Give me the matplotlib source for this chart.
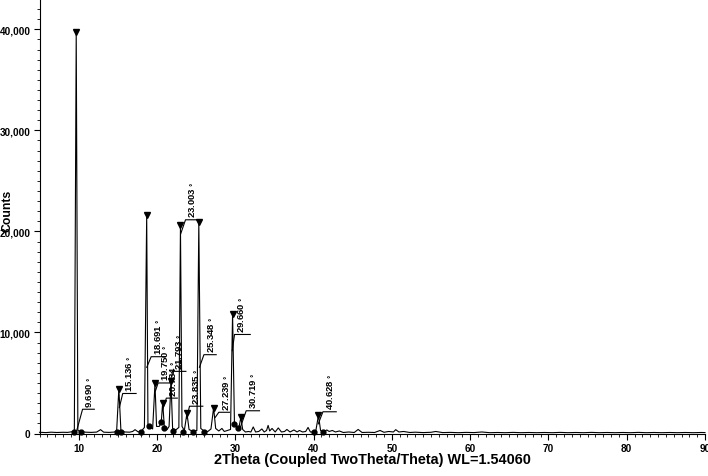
import numpy as np
import matplotlib
matplotlib.use('Agg')
import matplotlib.pyplot as plt
from matplotlib.ticker import MultipleLocator, FuncFormatter

plt.rcParams['font.family'] = ['Liberation Sans', 'DejaVu Sans']
plt.rcParams['font.weight'] = 'bold'

# DATA
# measured pattern (2theta, counts), read off the picture
two_theta = [5.0, 5.8, 6.5, 7.2, 8.0, 8.6, 9.2, 9.45, 9.69, 9.9, 10.3, 10.9, 11.6, 12.3, 12.8,
             13.2, 13.9, 14.5, 14.85, 15.136, 15.4, 15.9, 16.5, 16.9, 17.2, 17.6, 18.0, 18.4,
             18.691, 18.85, 19.05, 19.45, 19.75, 19.95, 20.3, 20.55, 20.734, 20.95, 21.3, 21.55,
             21.793, 22.0, 22.4, 22.8, 23.003, 23.2, 23.5, 23.835, 24.1, 24.6, 25.1, 25.348,
             25.6, 26.0, 26.5, 26.9, 27.239, 27.5, 27.9, 28.3, 28.6, 29.0, 29.4, 29.66, 29.9,
             30.2, 30.45, 30.719, 30.95, 31.3, 31.7, 32.0, 32.3, 32.6, 33.0, 33.4, 33.7, 34.0,
             34.2, 34.4, 34.7, 35.1, 35.5, 35.9, 36.3, 36.6, 37.0, 37.5, 37.9, 38.2, 38.6, 39.0,
             39.3, 39.6, 40.0, 40.3, 40.628, 40.9, 41.3, 41.7, 42.0, 42.4, 42.8, 43.3, 43.8,
             44.5, 45.2, 45.7, 46.2, 47.0, 47.8, 48.5, 49.0, 49.6, 50.2, 50.5, 50.9, 51.5, 52.3,
             53.0, 54.0, 55.0, 55.6, 56.5, 57.5, 58.5, 59.5, 60.5, 61.5, 62.5, 63.5, 64.5, 65.5,
             66.5, 67.5, 68.5, 69.5, 70.5, 71.5, 72.5, 73.5, 74.5, 75.5, 76.5, 77.5, 78.5, 79.5,
             80.5, 81.5, 82.5, 83.5, 84.5, 85.5, 86.5, 87.5, 88.5, 89.5, 90.0]
counts = [120, 90, 130, 100, 120, 110, 180, 250, 39700, 300, 180, 130, 110, 140, 380,
          130, 110, 140, 220, 4450, 260, 150, 130, 200, 380, 160, 220, 600,
          21600, 900, 700, 450, 4950, 700, 700, 1100, 3050, 600, 400, 700,
          5200, 500, 350, 600, 20600, 700, 300, 2000, 400, 200, 300, 20900,
          500, 250, 200, 450, 2550, 500, 250, 500, 200, 300, 400, 11850, 1000,
          700, 500, 1600, 400, 150, 200, 150, 650, 150, 200, 450, 150, 300,
          800, 250, 500, 150, 550, 150, 200, 400, 150, 350, 150, 300, 150, 200,
          600, 150, 150, 300, 1800, 300, 150, 350, 200, 300, 150, 250, 100,
          150, 100, 400, 100, 120, 100, 300, 120, 200, 150, 380, 150, 200, 100,
          130, 90, 120, 200, 90, 110, 80, 110, 90, 150, 80, 100, 80, 110,
          80, 100, 80, 100, 80, 110, 80, 100, 80, 110, 80, 100, 80, 100,
          80, 110, 80, 100, 80, 100, 80, 100, 80, 100, 90]

# identified peaks
peak_theta = [9.690, 15.136, 18.691, 19.750, 20.734, 21.793, 23.003, 23.835, 25.348,
              27.239, 29.660, 30.719, 40.628]
peak_counts = [39700, 4450, 21600, 4950, 3050, 5200, 20600, 2000, 20900, 2550, 11850, 1600, 1800]
peak_labels = ['9.690', '15.136', '18.691', '19.750', '20.734', '21.793', '23.003', '23.835',
               '25.348', '27.239', '29.660', '30.719', '40.628']

# background / fit points
dot_theta = [9.45, 10.30, 14.85, 15.40, 18.0, 19.0, 20.58, 20.95, 22.0, 23.3, 24.6, 26.0,
             29.9, 30.35, 40.05, 41.2]
dot_counts = [100, 100, 120, 120, 150, 750, 1100, 500, 200, 150, 150, 150, 950, 500, 150, 150]

# leader layout per label: start on peak (x, y), elbow (x, y), end x of the flag
lead_start = [(9.74, 250), (15.2, 2570), (18.70, 6550), (19.80, 4200), (20.75, 2400),
              (21.80, 4500), (23.05, 19800), (23.80, 1500), (25.43, 6550), (27.45, 1600),
              (29.62, 8200), (30.65, 600), (40.60, 950)]
lead_elbow = [(10.5, 2400), (15.63, 3960), (19.26, 7600), (20.15, 5000), (21.2, 3500),
              (21.95, 6150), (23.65, 21150), (24.16, 2700), (26.0, 7800), (27.9, 2100),
              (29.91, 9800), (31.4, 2250), (41.2, 2150)]
lead_end = [12.0, 17.34, 21.09, 21.5, 22.6, 23.7, 25.35, 25.86, 27.57, 29.27, 31.92, 33.1, 42.9]

fig = plt.figure(figsize=(7.08, 4.77), dpi=100)
ax = fig.add_axes([39.5 / 708, 42.5 / 477, 665.5 / 708, 434.5 / 477])

ax.plot(two_theta, counts, color='black', lw=0.8, clip_on=False, zorder=3)
ax.plot(peak_theta, peak_counts, 'v', color='black', ms=4.5, zorder=4)
ax.plot(dot_theta, dot_counts, 'o', color='black', ms=3.5, clip_on=False, zorder=4)

for lab, s, e, xe in zip(peak_labels, lead_start, lead_elbow, lead_end):
    ax.plot([s[0], e[0], xe], [s[1], e[1], e[1]], color='black', lw=0.8, zorder=3)
    ax.text(e[0] + 0.8, e[1] + 250, lab + ' $_{°}$', rotation=90, ha='center', va='bottom',
            fontsize=6.8, fontweight='bold')

ax.set_xlim(5, 90)
ax.set_ylim(0, 43000)
ax.xaxis.set_major_locator(MultipleLocator(10))
ax.xaxis.set_minor_locator(MultipleLocator(1))
ax.yaxis.set_major_locator(MultipleLocator(10000))
ax.yaxis.set_minor_locator(MultipleLocator(1000))
ax.yaxis.set_major_formatter(FuncFormatter(lambda v, p: f'{int(v):,}'))
ax.tick_params(which='major', length=4, width=0.8, labelsize=7.2, pad=2.5)
ax.tick_params(which='minor', length=2.5, width=0.6)
ax.spines['top'].set_visible(False)
ax.spines['right'].set_visible(False)

ax.set_xlabel('2Theta (Coupled TwoTheta/Theta) WL=1.54060', fontsize=10.4, fontweight='bold')
ax.xaxis.label.set_va('center')
ax.xaxis.set_label_coords(0.5, -0.059)
ax.set_ylabel('Counts', fontsize=8.8, fontweight='bold')
ax.yaxis.label.set_va('center')
ax.yaxis.set_label_coords(-0.048, 0.515)

fig.savefig('out.png', dpi=100)
